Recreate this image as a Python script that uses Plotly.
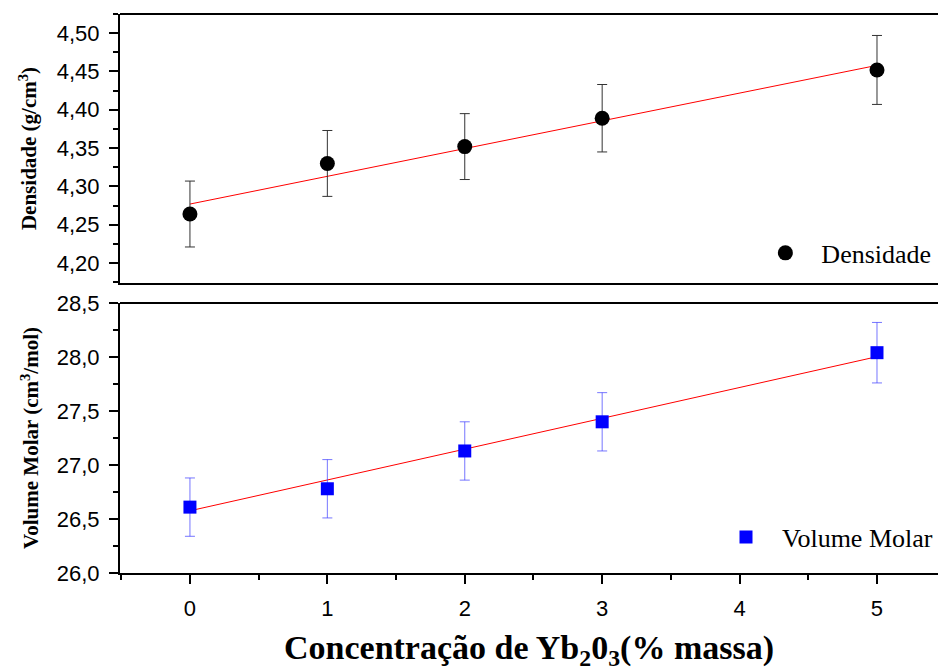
import plotly.graph_objects as go

conc = [0, 1, 2, 3, 5]
dens = [4.264, 4.330, 4.352, 4.389, 4.452]
dens_err = [0.043, 0.043, 0.043, 0.044, 0.045]
vm = [26.61, 26.78, 27.13, 27.40, 28.04]
vm_err = [0.27, 0.27, 0.27, 0.27, 0.28]
fit_x = [0, 5]
fit_dens = [4.277, 4.458]
fit_vm = [26.576, 28.003]

SERIF = "Liberation Serif, Times New Roman, serif"
SANS = "Liberation Sans, Arial, sans-serif"

fig = go.Figure()

fig.add_trace(go.Scatter(x=fit_x, y=fit_dens, mode="lines", line=dict(color="red", width=1),
                         showlegend=False, xaxis="x", yaxis="y", hoverinfo="skip"))
fig.add_trace(go.Scatter(x=conc, y=dens, mode="markers", name="Densidade",
                         marker=dict(symbol="circle", size=15, color="black"),
                         error_y=dict(type="data", array=dens_err, color="#333333", thickness=1, width=5),
                         xaxis="x", yaxis="y", legend="legend"))
fig.add_trace(go.Scatter(x=fit_x, y=fit_vm, mode="lines", line=dict(color="red", width=1),
                         showlegend=False, xaxis="x2", yaxis="y2", hoverinfo="skip"))
fig.add_trace(go.Scatter(x=conc, y=vm, mode="markers", name="Volume Molar",
                         marker=dict(symbol="square", size=13, color="#0000ff"),
                         error_y=dict(type="data", array=vm_err, color="rgba(60,60,255,0.7)", thickness=1, width=5),
                         xaxis="x2", yaxis="y2", legend="legend2"))

xr = [-0.509, 5.444]
top_dom = [0.5188, 1.0]
bot_dom = [0.0, 0.483]

common_x = dict(range=xr, showline=True, linecolor="black", linewidth=2, zeroline=False,
                showgrid=False)
common_y = dict(showline=True, linecolor="black", linewidth=2, zeroline=False, showgrid=False,
                ticks="outside", ticklen=9, tickwidth=1.5, tickcolor="black", ticklabelstandoff=5,
                tickfont=dict(family=SANS, size=22, color="black"))

fig.update_layout(
    width=938, height=671,
    margin=dict(l=120, r=0, t=14, b=98),
    paper_bgcolor="white", plot_bgcolor="white",
    separators=",.",
    xaxis=dict(**common_x, domain=[0, 1], anchor="y", ticks="", showticklabels=False),
    yaxis=dict(**common_y, domain=top_dom, anchor="x", range=[4.174, 4.525],
               tickvals=[4.20, 4.25, 4.30, 4.35, 4.40, 4.45, 4.50], tickformat=".2f",
               minor=dict(dtick=0.025, tick0=4.2, ticks="outside", ticklen=5, tickwidth=1.5, tickcolor="black"),
               title=dict(text="<b>Densidade (g/cm<sup>3</sup>)</b>", standoff=14,
                          font=dict(family=SERIF, size=21, color="black"))),
    xaxis2=dict(**common_x, domain=[0, 1], anchor="y2", ticks="outside", ticklen=9, tickwidth=1.5,
                tickcolor="black", tickvals=[0, 1, 2, 3, 4, 5], ticklabelstandoff=6,
                tickfont=dict(family=SANS, size=22, color="black"),
                minor=dict(dtick=0.5, tick0=-0.5, ticks="outside", ticklen=5, tickwidth=1.5, tickcolor="black"),
                title=dict(text="<b>Concentração de Yb<sub>2</sub>0<sub>3</sub>(% massa)</b>", standoff=16,
                           font=dict(family=SERIF, size=34, color="black"))),
    yaxis2=dict(**common_y, domain=bot_dom, anchor="x2", range=[26.0, 28.5],
                tickvals=[26.0, 26.5, 27.0, 27.5, 28.0, 28.5], tickformat=".1f",
                minor=dict(dtick=0.25, tick0=26.0, ticks="outside", ticklen=5, tickwidth=1.5, tickcolor="black"),
                title=dict(text="<b>Volume Molar (cm<sup>3</sup>/mol)</b>", standoff=12,
                           font=dict(family=SERIF, size=21, color="black"))),
    legend=dict(x=0.998, xanchor="right", y=0.5725, yanchor="middle", bgcolor="rgba(0,0,0,0)",
                font=dict(family=SERIF, size=26, color="black"), itemwidth=62),
    legend2=dict(x=1.0, xanchor="right", y=0.0644, yanchor="middle", bgcolor="rgba(0,0,0,0)",
                 font=dict(family=SERIF, size=26, color="black"), itemwidth=62),
    shapes=[
        dict(type="line", xref="x domain", yref="y domain", x0=0, x1=1, y0=1, y1=1,
             line=dict(color="black", width=2)),
        dict(type="line", xref="x2 domain", yref="y2 domain", x0=0, x1=1, y0=1, y1=1,
             line=dict(color="black", width=2)),
    ],
)

fig.write_html("out.html", config={"displayModeBar": False},
               post_script="document.body.style.margin='0px';document.body.style.overflow='hidden';")
